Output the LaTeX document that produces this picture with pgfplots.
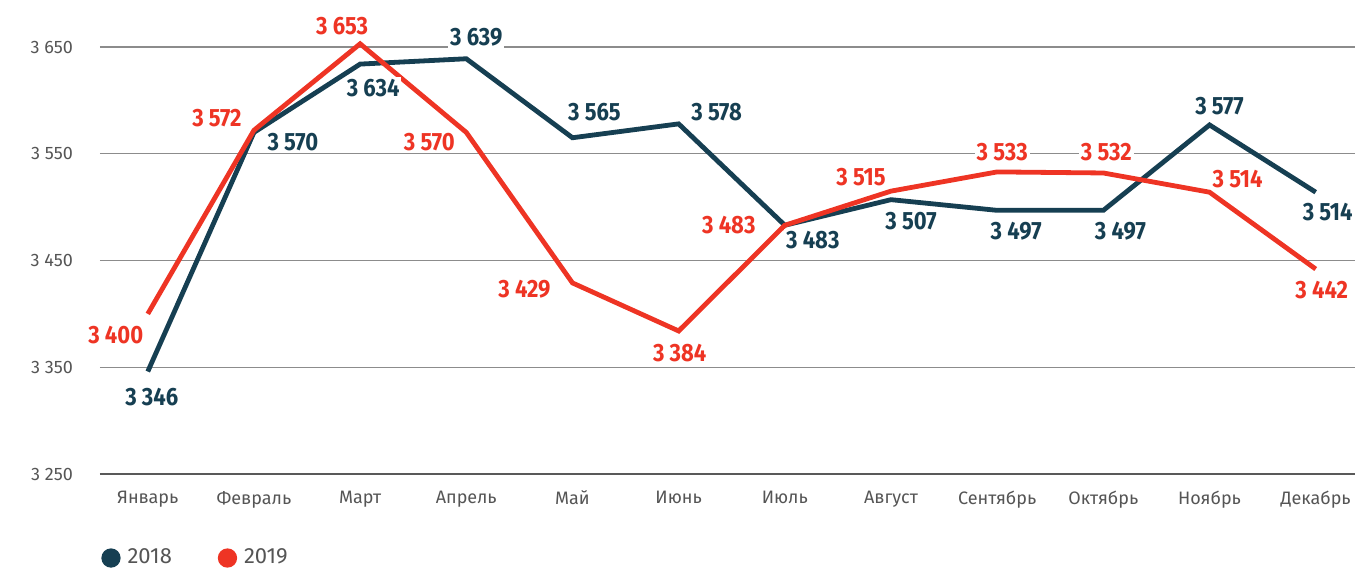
\documentclass[border=0pt]{standalone}
\usepackage{pgfplots}
\pgfplotsset{compat=1.18}
\usepackage{pgfplotstable}
\usepackage{fontspec}
\setmainfont{Fira Sans}
\newfontfamily\labfont[FakeStretch=0.88]{Fira Sans}
\definecolor{c18}{HTML}{163F52}
\definecolor{c19}{HTML}{EE3424}
\definecolor{gridc}{HTML}{8C8C8C}
\definecolor{txt}{HTML}{555555}

\pgfplotstableread{
x y dx dy
0 3346 2 -13
1 3570 19.5 -5
2 3634 6.5 -12
3 3639 5 11
4 3565 11 13
5 3578 19 6
6 3483 14 -7.5
7 3507 10 -10.5
8 3497 9.5 -10.5
9 3497 8.5 -10.5
10 3577 5 9.5
11 3514 6 -10
}\tA

\pgfplotstableread{
x y dx dy
0 3400 -16 -10.5
1 3572 -18.5 6
2 3653 -9 9
3 3570 -18.5 -5
4 3429 -24 -3
5 3384 0.5 -11
6 3483 -28 0
7 3515 -15 7
8 3533 2.5 10
9 3532 1.5 10.5
10 3514 14 6.5
11 3442 3 -10.5
}\tB

\begin{document}
\begin{tikzpicture}
\begin{axis}[
  at={(0,0)}, anchor=south west,
  scale only axis, width=627.5pt, height=234.85pt,
  xmin=-0.45, xmax=11.37, ymin=3250, ymax=3690,
  axis x line*=bottom, axis y line*=left,
  y axis line style={draw=none},
  x axis line style={-, color=black!65, line width=0.8pt},
  major tick length=0pt,
  xtick={0,...,11},
  xticklabels={Январь,Февраль,Март,Апрель,Май,Июнь,Июль,Август,Сентябрь,Октябрь,Ноябрь,Декабрь},
  ytick={3250,3350,3450,3550,3650},
  yticklabels={3 250,3 350,3 450,3 550,3 650},
  ymajorgrids, grid style={gridc, line width=0.6pt},
  tick label style={font=\fontsize{9}{10}\selectfont, text=txt},
  xticklabel style={yshift=-5pt},
  yticklabel style={xshift=-10pt},
  clip=false,
  legend columns=2,
  legend style={draw=none, fill=none, at={(0,0)}, anchor=west, yshift=-42pt, xshift=-2.5pt,
    font=\fontsize{11}{12}\selectfont, text=txt,
    /tikz/every even column/.append style={column sep=21pt}},
  legend image code/.code={\fill (3pt,0pt) circle (3.6pt);},
  every node near coord/.append style={anchor=center, xshift=\dx pt, yshift=\dy pt,
    font=\labfont\bfseries\fontsize{12.5}{13}\selectfont, fill=white, inner sep=1pt},
  visualization depends on={\thisrow{dx}\as\dx},
  visualization depends on={\thisrow{dy}\as\dy},
  point meta=y,
]
\addplot[c18, line width=2.4pt,
  nodes near coords={\pgfmathprintnumber[1000 sep={\ }, assume math mode=true, fixed, precision=0]{\pgfplotspointmeta}},
  every node near coord/.append style={text=c18}] table[x=x,y=y]{\tA};
\addlegendentry{\hspace*{1.5pt}2018}
\addplot[c19, line width=2.4pt,
  nodes near coords={\pgfmathprintnumber[1000 sep={\ }, assume math mode=true, fixed, precision=0]{\pgfplotspointmeta}},
  every node near coord/.append style={text=c19}] table[x=x,y=y]{\tB};
\addlegendentry{\hspace*{1.5pt}2019}
\end{axis}
\pgfresetboundingbox
\path[use as bounding box] (-50pt,-47.5pt) rectangle (627.5pt,237pt);
\end{tikzpicture}
\end{document}
